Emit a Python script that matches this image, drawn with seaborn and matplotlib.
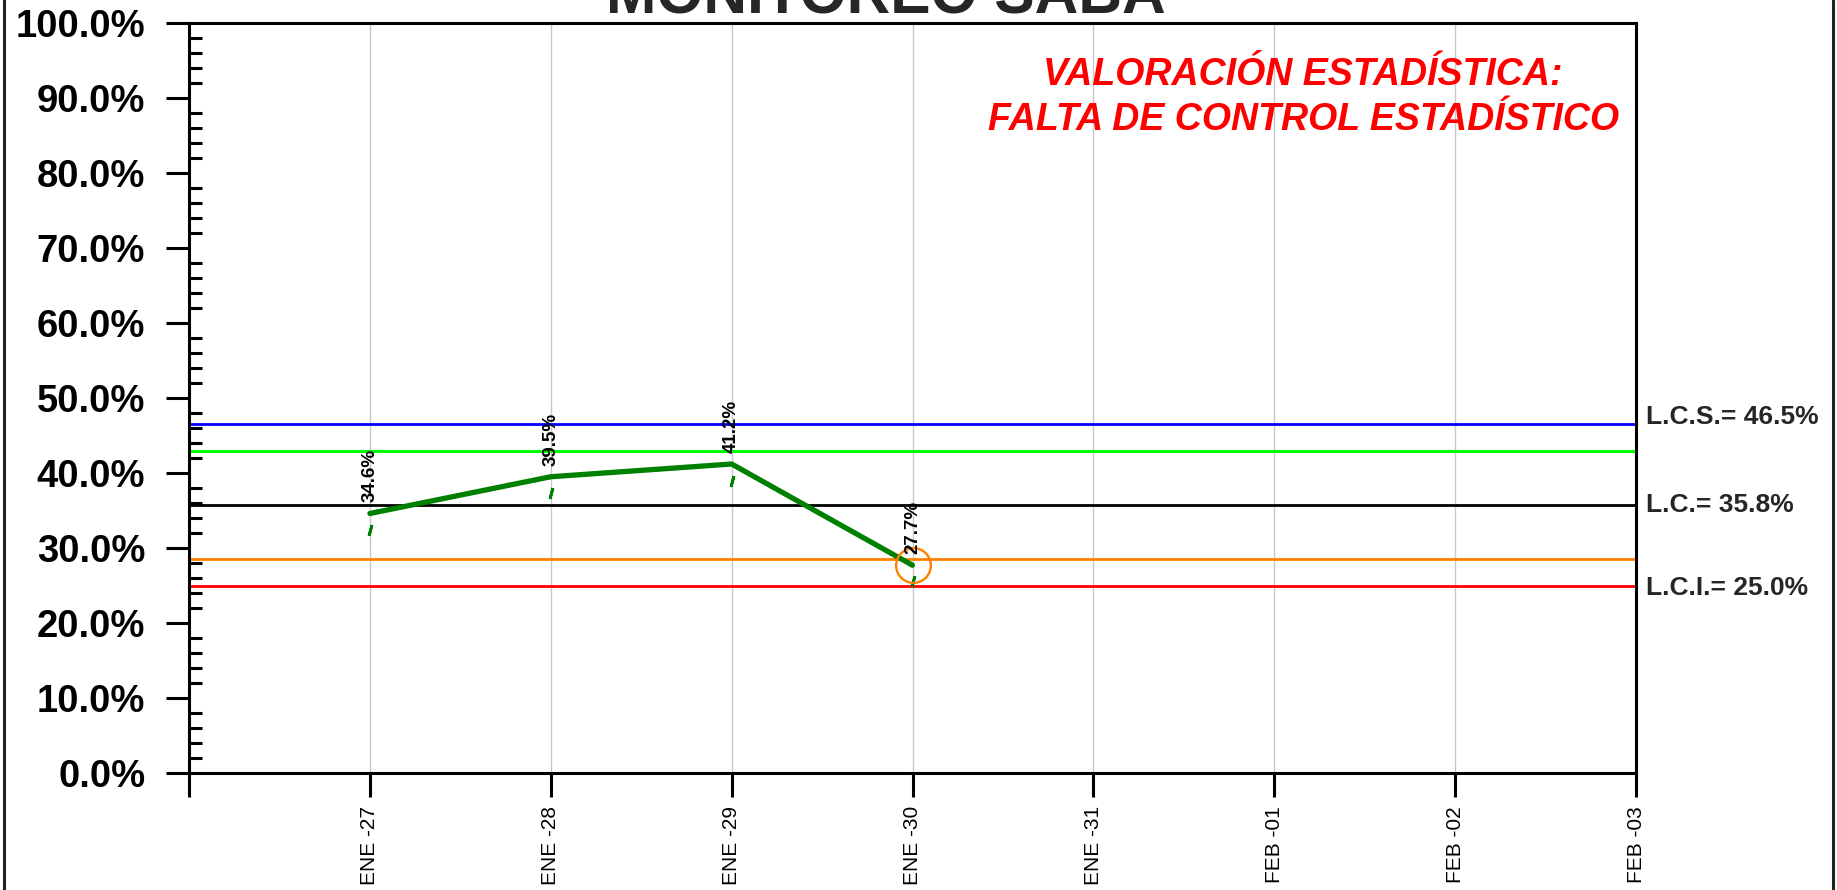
import matplotlib
matplotlib.use("Agg")
import matplotlib.pyplot as plt
from matplotlib.lines import Line2D
from matplotlib.ticker import MultipleLocator, FuncFormatter
import seaborn as sns
import pandas as pd

# ---------------- data ----------------
fechas = ["ENE -27", "ENE -28", "ENE -29", "ENE -30", "ENE -31", "FEB -01", "FEB -02", "FEB -03"]
valores = [34.6, 39.5, 41.2, 27.7]          # % monitoreo SABA (first four days)
marcas = [32.4, 37.3, 38.9, 25.6]           # small green dash marks below each point
lcs = 46.5
lc = 35.8
lci = 25.0
lim_sup_2s = 42.93
lim_inf_2s = 28.6
fuera_control = [27.7]                       # highlighted point
titulo = "MONITOREO SABA"
valoracion = ["VALORACIÓN ESTADÍSTICA:", "FALTA DE CONTROL ESTADÍSTICO"]

# ---------------- style ----------------
sns.set_theme(style="white")
plt.rcParams['font.family'] = ['Liberation Sans', 'DejaVu Sans']

W, H = 1837, 890
fig = plt.figure(figsize=(W / 100, H / 100), dpi=100)
ax = fig.add_axes([189 / W, 1 - 773 / H, (1636 - 189) / W, (773 - 23) / H])

x_pos = list(range(1, len(valores) + 1))
df = pd.DataFrame({"x": x_pos, "valor": valores, "marca": marcas})

# control lines
ax.axhline(lcs, color="#0000ff", lw=2, zorder=2)
ax.axhline(lim_sup_2s, color="#00ff00", lw=2.2, zorder=2)
ax.axhline(lc, color="#000000", lw=2, zorder=2)
ax.axhline(lim_inf_2s, color="#ff8000", lw=2, zorder=2)
ax.axhline(lci, color="#ff0000", lw=2, zorder=2)

# data line
sns.lineplot(data=df, x="x", y="valor", color="#008000", lw=3.8, ax=ax, zorder=4)
# dash marks
ax.plot(df["x"], df["marca"], linestyle="none", marker=(2, 2, -15), markersize=8,
        markeredgewidth=2, color="#008000", zorder=4)
# out-of-control circle
fc_x = [x_pos[valores.index(v)] for v in fuera_control]
ax.plot(fc_x, fuera_control, linestyle="none", marker="o", markersize=25,
        markerfacecolor="none", markeredgecolor="#ff8000", markeredgewidth=1.7, zorder=5)

# data labels
for xi, v in zip(x_pos, valores):
    ax.annotate(f"{v:.1f}%", (xi, v), xytext=(0, 8), textcoords="offset points",
                rotation=90, ha="center", va="bottom", fontsize=13.5,
                fontweight="bold", color="black", zorder=6)

# axes ranges and ticks
ax.set_xlim(0, 8)
ax.set_ylim(0, 100)
ax.set_xticks(range(0, 9))
ax.set_xticklabels([""] + fechas, rotation=90, fontsize=15)
ax.yaxis.set_major_locator(MultipleLocator(10))
ax.yaxis.set_minor_locator(MultipleLocator(2))
ax.yaxis.set_major_formatter(FuncFormatter(lambda v, p: f"{v:.1f}%"))
ax.tick_params(axis="y", which="major", direction="out", length=16.5, width=2.2,
               pad=15, labelsize=27.5, left=True, right=False, colors="black")
ax.tick_params(axis="y", which="minor", direction="in", length=9.4, width=2.2,
               left=True, right=False, color="black")
ax.tick_params(axis="x", which="major", direction="out", length=17.3, width=2.2,
               pad=6.5, bottom=True, top=False, colors="black")
for lab in ax.get_yticklabels():
    lab.set_fontweight("bold")
ax.set_xlabel("")
ax.set_ylabel("")

ax.grid(False)
ax.xaxis.grid(True, color="#c8c8c8", lw=1)
ax.set_axisbelow(True)
for s in ax.spines.values():
    s.set_visible(True)
    s.set_color("black")
    s.set_linewidth(2.2)

# right-side limit labels
etiquetas = [(f"L.C.S.= {lcs:.1f}%", lcs, 5), (f"L.C.= {lc:.1f}%", lc, 0), (f"L.C.I.= {lci:.1f}%", lci, -2)]
for txt, val, dy in etiquetas:
    ax.annotate(txt, (8, val), xytext=(7, dy), textcoords="offset points",
                ha="left", va="center", fontsize=19, fontweight="bold",
                annotation_clip=False)

# red statistical assessment text
ax.text(6.16, 93.07, valoracion[0], ha="center", va="center", fontsize=27,
        fontweight="bold", fontstyle="italic", color="#ff0000")
ax.text(6.16, 87.13, valoracion[1], ha="center", va="center", fontsize=27,
        fontweight="bold", fontstyle="italic", color="#ff0000")

# title
fig.text(886 / W, 1 - 13 / H, titulo, ha="center", va="baseline", fontsize=43.6,
         fontweight="bold")

# figure frame lines (left & right)
fig.add_artist(Line2D([4 / W, 4 / W], [0, 1], transform=fig.transFigure, color="#222222", lw=2.2))
fig.add_artist(Line2D([1833 / W, 1833 / W], [0, 1], transform=fig.transFigure, color="#222222", lw=2.2))

fig.savefig("out.png", dpi=100)
